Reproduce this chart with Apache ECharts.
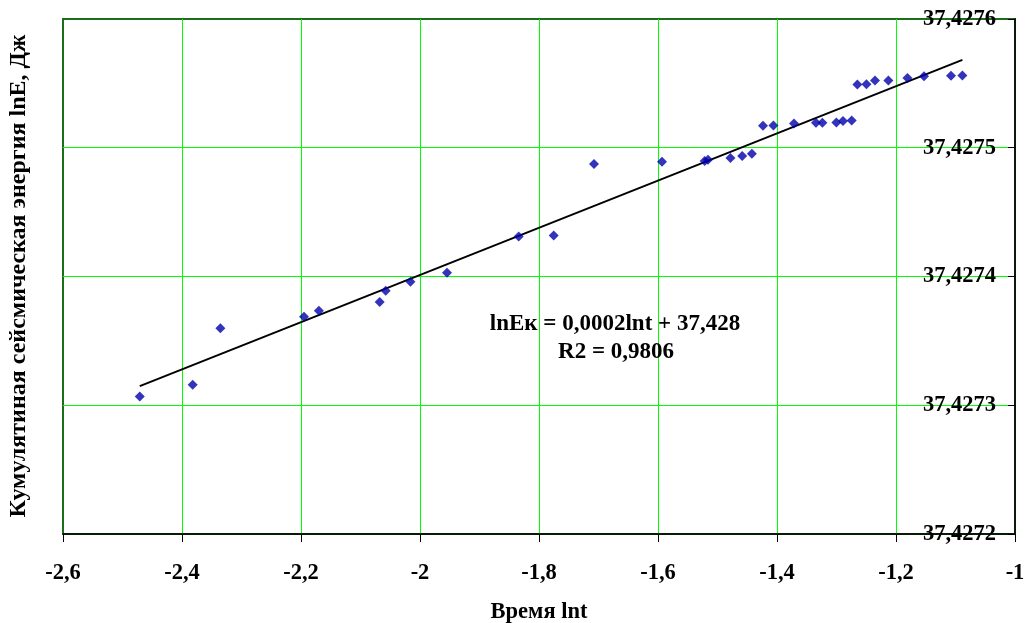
<!DOCTYPE html>
<html>
<head>
<meta charset="utf-8">
<script src="https://cdn.jsdelivr.net/npm/echarts@6/dist/echarts.min.js"></script>
<style>
  html, body { margin: 0; padding: 0; background: #fff; }
  #chart { width: 1026px; height: 623px; }
</style>
</head>
<body>
<div id="chart"></div>
<script>
// Observations: time (ln t) and cumulative seismic energy (ln E)
const lnT = [
  -2.471, -2.382, -2.3355, -2.195, -2.170, -2.0677, -2.0577, -2.0161, -1.9546,
  -1.8341, -1.7753, -1.7076, -1.5933, -1.5215, -1.516, -1.4783, -1.4585, -1.4422,
  -1.4235, -1.406, -1.3714, -1.3345, -1.3237, -1.3002, -1.2891, -1.2745,
  -1.2649, -1.2497, -1.2353, -1.2128, -1.1808, -1.1529, -1.1076, -1.0884
];
const lnE = [
  37.4273068, 37.4273159, 37.4273599, 37.4273687, 37.4273734, 37.4273801, 37.4273889, 37.4273959, 37.4274029,
  37.4274311, 37.4274319, 37.4274873, 37.4274891, 37.4274897, 37.4274907, 37.4274920, 37.4274936, 37.4274953,
  37.4275171, 37.4275173, 37.4275189, 37.4275194, 37.4275194, 37.4275197, 37.4275207, 37.4275212,
  37.4275492, 37.4275494, 37.4275523, 37.4275523, 37.4275541, 37.4275556, 37.4275559, 37.4275562
];

// Axis ranges and labels
const xRange = { min: -2.6, max: -1, step: 0.2 };
const yRange = { min: 37.4272, max: 37.4276, step: 0.0001 };
const xTitle = 'Время lnt';
const yTitle = 'Кумулятиная сейсмическая энергия lnE, Дж';
const equationText = 'lnEк = 0,0002lnt + 37,428';
const r2Text = 'R2 = 0,9806';

// Least-squares linear trend through the observations
function linearFit(xs, ys) {
  const n = xs.length;
  const base = ys[0];
  let sx = 0, sy = 0, sxx = 0, sxy = 0;
  for (let i = 0; i < n; i++) {
    const x = xs[i], y = ys[i] - base;
    sx += x; sy += y; sxx += x * x; sxy += x * y;
  }
  const slope = (n * sxy - sx * sy) / (n * sxx - sx * sx);
  const b0 = (sy - slope * sx) / n;
  return { slope, base, b0 };
}
const fit = linearFit(lnT, lnE);
const xMinData = Math.min(...lnT), xMaxData = Math.max(...lnT);
const trend = [
  [xMinData, fit.base + fit.b0 + fit.slope * xMinData],
  [xMaxData, fit.base + fit.b0 + fit.slope * xMaxData]
];

const points = lnT.map((x, i) => [x, lnE[i]]);
const serif = '"Liberation Serif", "Times New Roman", serif';
const comma = s => s.replace('.', ',');
const boldText = (size) => ({ fontFamily: serif, fontWeight: 'bold', fontSize: size, color: '#000' });

const chart = echarts.init(document.getElementById('chart'), null, { renderer: 'canvas' });
chart.setOption({
  animation: false,
  backgroundColor: '#ffffff',
  grid: {
    left: 63, right: 11, top: 19, bottom: 89,
    outerBoundsMode: 'none',
    containLabel: false,
    show: true,
    borderColor: '#1c6e1c',
    borderWidth: 2,
    backgroundColor: 'transparent'
  },
  xAxis: {
    type: 'value',
    min: xRange.min, max: xRange.max, interval: xRange.step,
    name: xTitle,
    nameLocation: 'middle',
    nameGap: 67,
    nameTextStyle: boldText(22.5),
    axisLine: { show: true, onZero: false, lineStyle: { color: '#000', width: 1.5 } },
    axisTick: { show: true, inside: false, length: 8, lineStyle: { color: '#000', width: 1 } },
    axisLabel: Object.assign({
      margin: 28,
      formatter: v => comma(String(+v.toFixed(1)))
    }, boldText(22.5)),
    splitLine: { show: true, showMinLine: false, showMaxLine: false, lineStyle: { color: '#00ff00', width: 1 } }
  },
  yAxis: {
    type: 'value',
    position: 'right',
    min: yRange.min, max: yRange.max, interval: yRange.step,
    axisLine: { show: true, lineStyle: { color: '#000', width: 1.5 } },
    axisTick: { show: true, inside: true, length: 7, lineStyle: { color: '#000', width: 1 } },
    axisLabel: Object.assign({
      inside: true,
      margin: 19,
      formatter: v => comma(v.toFixed(4))
    }, boldText(22.5)),
    splitLine: { show: true, showMinLine: false, showMaxLine: false, lineStyle: { color: '#00ff00', width: 1 } }
  },
  series: [
    {
      type: 'line',
      data: trend,
      showSymbol: false,
      symbol: 'none',
      lineStyle: { color: '#000', width: 2 },
      z: 3,
      silent: true
    },
    {
      type: 'scatter',
      data: points,
      symbol: 'diamond',
      symbolSize: [10, 10],
      itemStyle: { color: '#0000aa' },
      z: 4
    }
  ],
  graphic: [
    {
      type: 'text',
      x: 615, y: 324,
      style: {
        text: equationText,
        fontFamily: serif, fontWeight: 'bold', fontSize: 23,
        fill: '#000',
        align: 'center',
        verticalAlign: 'middle'
      },
      z: 10
    },
    {
      type: 'text',
      x: 616, y: 352,
      style: {
        text: r2Text,
        fontFamily: serif, fontWeight: 'bold', fontSize: 23,
        fill: '#000',
        align: 'center',
        verticalAlign: 'middle'
      },
      z: 10
    },
    {
      // vertical axis title along the left edge
      type: 'text',
      x: 19, y: 276,
      rotation: Math.PI / 2,
      style: {
        text: yTitle,
        fontFamily: serif, fontWeight: 'bold', fontSize: 24,
        fill: '#000',
        align: 'center',
        verticalAlign: 'middle'
      }
    }
  ]
});
</script>
</body>
</html>
